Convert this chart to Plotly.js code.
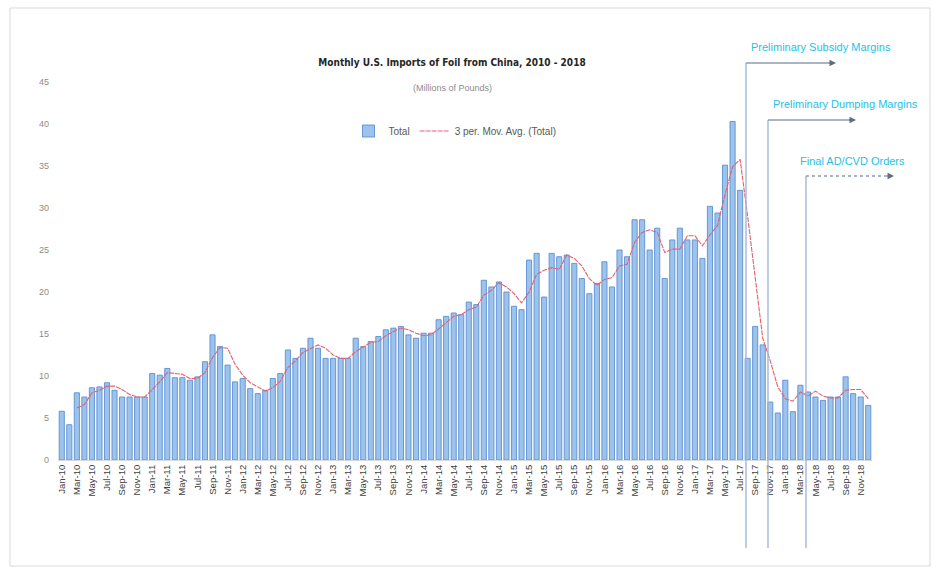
<!DOCTYPE html>
<html>
<head>
<meta charset="utf-8">
<script src="https://cdn.plot.ly/plotly-3.0.1.min.js"></script>
<style>
html,body{margin:0;padding:0;background:#fff;}
#chart{width:936px;height:574px;}
</style>
</head>
<body>
<div id="chart"></div>
<script>
// ---- data ----
const monthNames = ["Jan","Feb","Mar","Apr","May","Jun","Jul","Aug","Sep","Oct","Nov","Dec"];
const yearLabels = ["10","11","12","13","14","15","16","17","18"];

// Monthly totals (millions of pounds), Jan-10 .. Dec-18
const totalValues = [
  5.8, 4.2, 8.0, 7.5, 8.6, 8.7, 9.2, 8.3, 7.5, 7.5, 7.5, 7.5,
  10.3, 10.1, 10.9, 9.8, 9.8, 9.5, 9.9, 11.7, 14.9, 13.5, 11.3, 9.3,
  9.7, 8.5, 7.9, 8.3, 9.7, 10.3, 13.1, 12.1, 13.3, 14.5, 13.3, 12.1,
  12.1, 12.1, 12.1, 14.5, 13.5, 14.1, 14.7, 15.5, 15.7, 15.9, 14.9, 14.5,
  15.1, 15.1, 16.7, 17.1, 17.5, 17.3, 18.8, 18.5, 21.4, 20.6, 21.2, 20.0,
  18.3, 17.9, 23.8, 24.6, 19.4, 24.6, 24.2, 24.4, 23.4, 21.6, 19.8, 21.0,
  23.6, 20.6, 25.0, 24.2, 28.6, 28.6, 25.0, 27.6, 21.6, 26.2, 27.6, 26.2,
  26.2, 24.0, 30.2, 29.4, 35.1, 40.3, 32.1, 12.1, 15.9, 13.7, 6.9, 5.6,
  9.5, 5.75, 8.9, 8.1, 7.5, 7.1, 7.5, 7.5, 9.9, 7.9, 7.5, 6.5
];

// Moving average line
const movAvgValues = [
  null, null, 6.2, 6.6, 8.0, 8.3, 8.8, 8.8, 8.4, 7.8, 7.5, 7.5,
  8.4, 9.3, 10.4, 10.3, 10.2, 9.7, 9.7, 10.4, 12.2, 13.4, 13.3, 11.4,
  10.1, 9.2, 8.7, 8.2, 8.6, 9.4, 11.0, 11.8, 12.8, 13.3, 13.7, 13.3,
  12.5, 12.1, 12.1, 12.9, 13.4, 14.0, 14.1, 14.8, 15.3, 15.7, 15.5, 15.1,
  14.8, 14.9, 15.6, 16.3, 17.1, 17.3, 17.9, 18.2, 19.6, 20.2, 21.1, 20.6,
  19.8, 18.7, 20.0, 22.1, 22.6, 22.9, 22.7, 24.4, 24.0, 23.1, 21.6, 20.8,
  21.5, 21.7, 23.1, 23.3, 25.9, 27.1, 27.4, 27.1, 24.7, 25.1, 25.1, 26.7,
  26.7, 25.5, 26.8, 27.9, 31.6, 34.9, 35.8, 29.0, 21.5, 14.5, 11.8, 8.7,
  7.3, 7.0, 8.1, 7.6, 8.2, 7.6, 7.4, 7.4, 8.3, 8.4, 8.4, 7.3
];

const yTickValues = [0, 5, 10, 15, 20, 25, 30, 35, 40, 45];

const titleText = "Monthly U.S. Imports of Foil from China, 2010 - 2018";
const subtitleText = "(Millions of Pounds)";
const seriesNames = ["Total", "3 per. Mov. Avg. (Total)"];
const eventLabels = ["Preliminary Subsidy Margins", "Preliminary Dumping Margins", "Final AD/CVD Orders"];

// ---- build categories ----
const categories = [];
yearLabels.forEach(y => monthNames.forEach(m => categories.push(m + "-" + y)));
const tickVals = categories.filter((c, i) => i % 2 === 0);

// ---- layout helpers (pixel -> paper) ----
const L = 58, R = 64, T = 82, B = 114, W = 936 - L - R, H = 574 - T - B;
const px = v => (v - L) / W;
const py = v => (574 - B - v) / H;

const NARROW = "DejaVu Sans Condensed, Liberation Sans Narrow, Liberation Sans, Arial, sans-serif";
const BASE = "Liberation Sans, Arial, sans-serif";
const lineCol = "#a3b6d9";
const evCol = "#27bfe6";

const traces = [
  {
    type: "bar",
    name: seriesNames[0],
    x: categories,
    y: totalValues,
    marker: { color: "#9cc3ec", line: { color: "#5b8fd3", width: 0.9 } }
  },
  {
    type: "scatter",
    mode: "lines",
    name: seriesNames[1],
    x: categories,
    y: movAvgValues,
    line: { color: "#e4606e", width: 1.1, dash: "5px,1px" },
    connectgaps: false
  }
];

const shapes = [
  { type: "rect", xref: "paper", yref: "paper", x0: px(10), x1: px(930), y0: py(8), y1: py(566),
    line: { color: "#d9d9d9", width: 1 }, layer: "below" },
  { type: "line", xref: "paper", yref: "paper", x0: px(746), x1: px(746), y0: py(63), y1: py(548), line: { color: lineCol, width: 1.4 } },
  { type: "line", xref: "paper", yref: "paper", x0: px(768), x1: px(768), y0: py(120), y1: py(548), line: { color: lineCol, width: 1.4 } },
  { type: "line", xref: "paper", yref: "paper", x0: px(806), x1: px(806), y0: py(176), y1: py(548), line: { color: lineCol, width: 1.4 } },
  { type: "line", xref: "paper", yref: "paper", x0: px(746), x1: px(832), y0: py(63), y1: py(63), line: { color: "#8d9bb0", width: 1.3 } },
  { type: "line", xref: "paper", yref: "paper", x0: px(768), x1: px(852), y0: py(120), y1: py(120), line: { color: "#8d9bb0", width: 1.3 } },
  { type: "line", xref: "paper", yref: "paper", x0: px(806), x1: px(890), y0: py(176), y1: py(176), line: { color: "#8d9bb0", width: 1.3, dash: "dot" } }
];

const ann = (x, y, text, font) => ({ xref: "paper", yref: "paper", x: px(x), y: py(y), text: text,
  showarrow: false, xanchor: "center", yanchor: "middle", font: font });
const head = (x, y) => ({ xref: "paper", yref: "paper", x: px(x), y: py(y), ax: -8, ay: 0, text: "",
  showarrow: true, arrowhead: 2, arrowsize: 1, arrowwidth: 1.3, arrowcolor: "#5f6d84" });

const annotations = [
  ann(452, 88, subtitleText, { family: BASE, size: 9, color: "#8c8c8c" }),
  ann(821, 47, eventLabels[0], { family: BASE, size: 11, color: evCol }),
  ann(845, 104, eventLabels[1], { family: BASE, size: 11, color: evCol }),
  ann(852, 161, eventLabels[2], { family: BASE, size: 11, color: evCol }),
  head(836, 63), head(856, 120), head(894, 176)
];

const layout = {
  width: 936, height: 574,
  margin: { l: L, r: R, t: T, b: B },
  paper_bgcolor: "#ffffff",
  plot_bgcolor: "#ffffff",
  font: { family: BASE, color: "#595959" },
  title: { text: "<b>" + titleText + "</b>", xref: "paper", x: px(452), xanchor: "center",
    yref: "container", y: 1 - 62 / 574, yanchor: "middle",
    font: { family: NARROW, size: 10, color: "#262626" } },
  bargap: 0.32,
  showlegend: true,
  legend: { orientation: "h", xref: "paper", x: px(455), xanchor: "center", yref: "paper", y: py(131), yanchor: "middle",
    font: { family: BASE, size: 10, color: "#595959" }, bgcolor: "rgba(0,0,0,0)", itemwidth: 30 },
  xaxis: {
    type: "category",
    tickmode: "array",
    tickvals: tickVals,
    ticktext: tickVals,
    tickangle: -90,
    tickfont: { family: BASE, size: 9.5, color: "#404040" },
    showgrid: false,
    showline: true,
    linecolor: "#d9d9d9",
    ticks: "",
    zeroline: false
  },
  yaxis: {
    range: [0, 45],
    tickmode: "array",
    tickvals: yTickValues,
    tickfont: { family: BASE, size: 9, color: "#8c8c8c" },
    showgrid: false,
    showline: false,
    zeroline: false,
    ticks: "",
    ticklabelstandoff: 8
  },
  shapes: shapes,
  annotations: annotations
};

Plotly.newPlot("chart", traces, layout, { displayModeBar: false, staticPlot: true });
</script>
</body>
</html>
